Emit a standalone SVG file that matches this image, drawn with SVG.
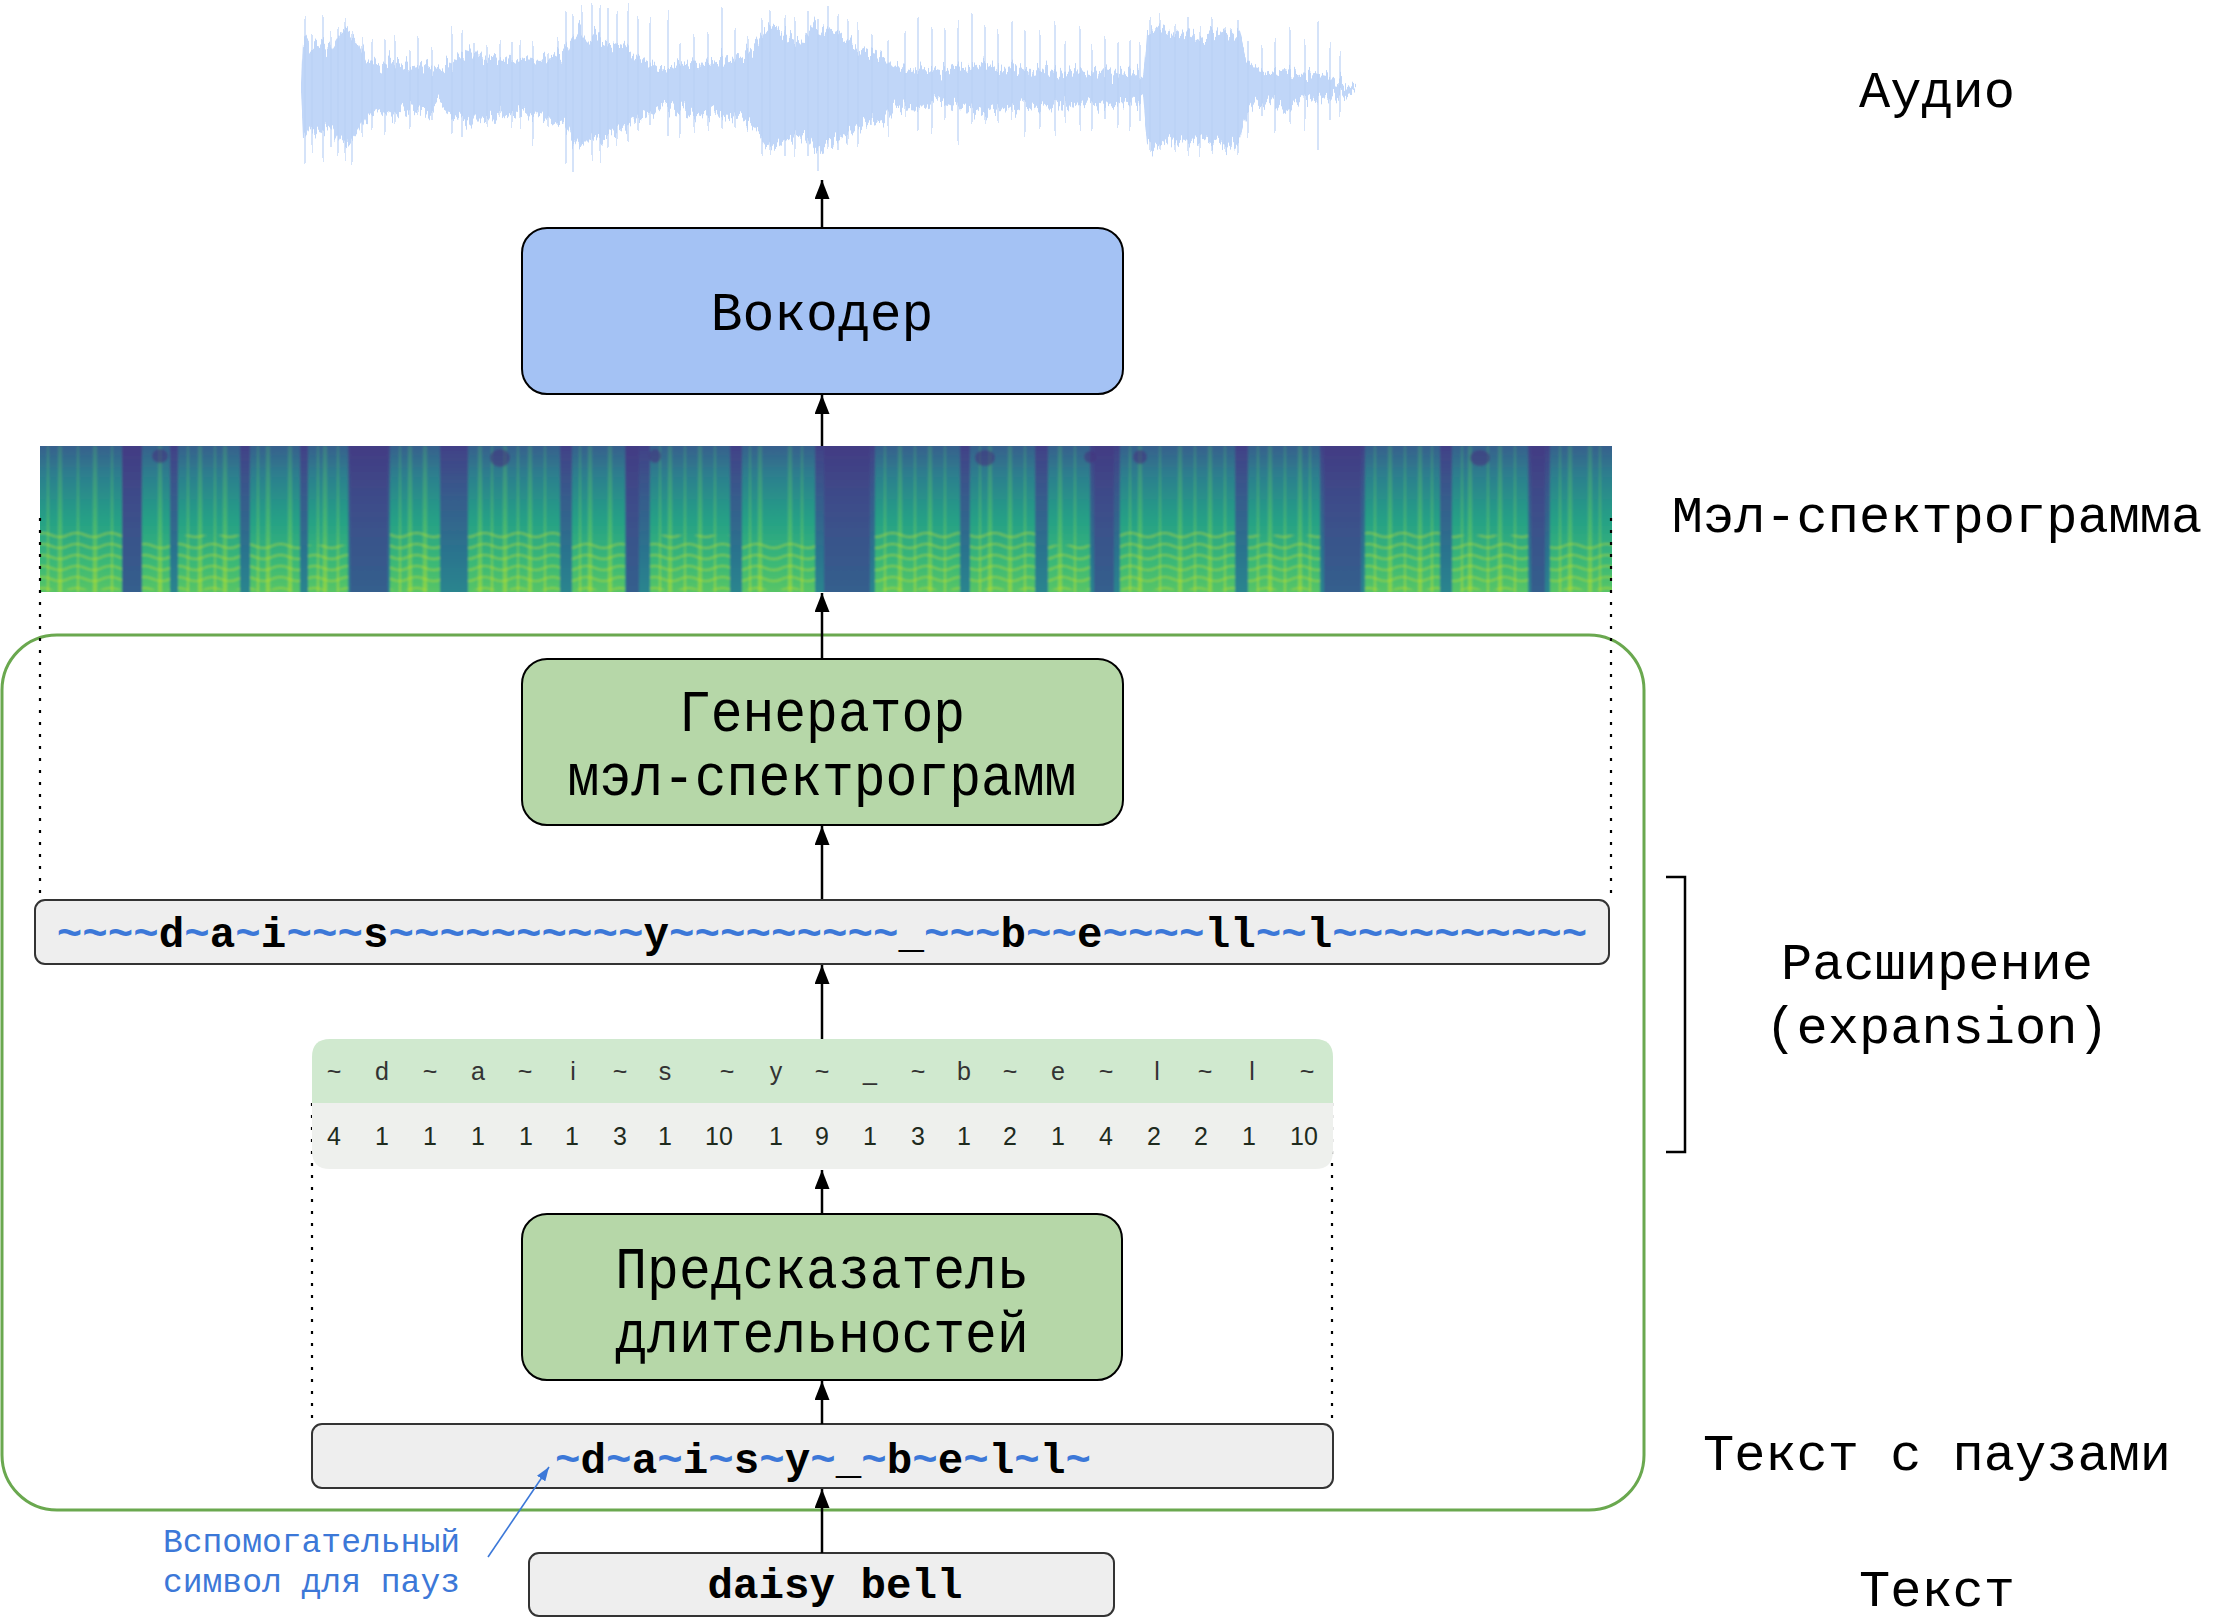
<svg xmlns="http://www.w3.org/2000/svg" width="2219" height="1620" viewBox="0 0 2219 1620">
<style>
.lbl{font-family:"Liberation Mono","DejaVu Sans Mono",monospace;font-size:52px;fill:#000;text-anchor:middle}
.btx{font-family:"Liberation Mono","DejaVu Sans Mono",monospace;font-size:53px;fill:#000;text-anchor:middle}
.box{stroke:#000;stroke-width:2}
.bar{fill:#eeeeee;stroke:#333;stroke-width:2}
.code{font-family:"Liberation Mono","DejaVu Sans Mono",monospace;font-size:42.5px;font-weight:bold;fill:#000;text-anchor:middle}
.t{fill:#3c78d8}
.tbl{font-family:"Liberation Sans",Arial,sans-serif;font-size:25px;text-anchor:middle;fill:#333}
.num{fill:#1e2b1e}
.ann{font-family:"Liberation Mono","DejaVu Sans Mono",monospace;font-size:33px;fill:#3c78d8;text-anchor:end}
.conn line{stroke:#000;stroke-width:2.5;marker-end:url(#ah)}
.dot{stroke:#000;stroke-width:2.2;stroke-dasharray:3 9;fill:none}
.v{fill:url(#gv)}
.h{fill:url(#harm);opacity:.45}
.d{fill:url(#gd)}
</style>
<defs>
<marker id="ah" markerUnits="userSpaceOnUse" markerWidth="20" markerHeight="16" refX="19" refY="7.5" orient="auto"><path d="M0,0 L19,7.5 L0,15 z" fill="#000"/></marker>
<marker id="ahb" markerUnits="userSpaceOnUse" markerWidth="14" markerHeight="10" refX="14" refY="5" orient="auto"><path d="M0,0 L14,5 L0,10 z" fill="#3c78d8"/></marker>
<linearGradient id="gm" gradientUnits="userSpaceOnUse" x1="0" y1="446" x2="0" y2="592"><stop offset="0" stop-color="#424187"/><stop offset=".3" stop-color="#38598c"/><stop offset=".7" stop-color="#2c728e"/><stop offset="1" stop-color="#2a858e"/></linearGradient>
<linearGradient id="gv" gradientUnits="userSpaceOnUse" x1="0" y1="446" x2="0" y2="592"><stop offset="0" stop-color="#37608d"/><stop offset=".2" stop-color="#2d7f8e"/><stop offset=".5" stop-color="#25a086"/><stop offset=".8" stop-color="#3bb877"/><stop offset="1" stop-color="#58c566"/></linearGradient>
<linearGradient id="gd" gradientUnits="userSpaceOnUse" x1="0" y1="446" x2="0" y2="592"><stop offset="0" stop-color="#433c84"/><stop offset=".4" stop-color="#3d4d8a"/><stop offset="1" stop-color="#345f8d"/></linearGradient>
<linearGradient id="gs" gradientUnits="userSpaceOnUse" x1="0" y1="446" x2="0" y2="592"><stop offset="0" stop-color="#4ac16d" stop-opacity=".25"/><stop offset=".6" stop-color="#6ece58" stop-opacity=".5"/><stop offset="1" stop-color="#a2da37" stop-opacity=".7"/></linearGradient>
<pattern id="harm" width="34" height="11" patternUnits="userSpaceOnUse" x="0" y="540"><path d="M0,6 Q8.5,2 17,6 T34,6" fill="none" stroke="#c2df23" stroke-width="2.2"/></pattern>
<clipPath id="specclip"><rect x="40" y="446" width="1572" height="146"/></clipPath>
<filter id="soft" x="-2%" y="-10%" width="104%" height="120%"><feGaussianBlur stdDeviation="1.3"/></filter>
<filter id="rough" x="-5%" y="-40%" width="110%" height="180%">
<feTurbulence type="fractalNoise" baseFrequency="0.35 0.015" numOctaves="2" seed="7" result="n"/>
<feColorMatrix in="n" type="matrix" values="0 0 0 0 0.5  0 1 0 0 0  0 0 0 0 0  0 0 0 0 1" result="m"/>
<feDisplacementMap in="SourceGraphic" in2="m" scale="34" xChannelSelector="R" yChannelSelector="G"/>
</filter>
</defs>
<rect width="2219" height="1620" fill="#fff"/>

<g id="audio-wave" filter="url(#rough)">
<polygon fill="#c0d6f8" points="301,83 303,38 310,48 318,43 330,50 340,33 350,36 358,43 366,58 380,66 395,60 410,68 425,64 440,70 446,66 458,58 470,50 480,60 495,56 510,62 525,58 540,60 555,56 565,52 571,40 580,28 590,38 600,36 612,43 625,48 640,58 655,66 661,70 675,66 690,62 705,64 720,60 740,58 755,48 765,33 775,28 790,38 805,40 815,26 825,30 840,38 855,46 870,53 885,58 893,66 910,70 925,68 940,72 955,66 970,68 985,63 1000,70 1015,66 1030,72 1045,68 1060,74 1075,70 1090,73 1105,70 1120,74 1135,72 1143,78 1147,33 1155,28 1170,36 1185,33 1200,38 1215,34 1230,30 1240,38 1246,58 1255,68 1270,73 1285,70 1300,76 1315,74 1330,78 1345,82 1356,86 1356,90 1345,94 1330,98 1315,102 1300,100 1285,106 1270,103 1255,108 1246,118 1240,138 1230,146 1215,142 1200,138 1185,143 1170,140 1155,148 1147,143 1143,98 1135,104 1120,102 1105,106 1090,103 1075,106 1060,102 1045,108 1030,104 1015,110 1000,106 985,113 970,108 955,110 940,104 925,108 910,106 893,110 885,118 870,123 855,130 840,138 825,146 815,150 805,136 790,138 775,148 765,143 755,128 740,118 720,116 705,112 690,114 675,110 661,106 655,110 640,118 625,128 612,133 600,140 590,138 580,148 571,136 565,124 555,120 540,116 525,118 510,114 495,120 480,116 470,126 458,118 446,110 440,106 425,112 410,108 395,116 380,110 366,118 358,133 350,140 340,143 330,126 318,133 310,128 303,138 301,93"/>
<path fill="none" stroke="#b9d1f6" stroke-width="1.2" d="M305,18V160M312,26V146M323,20V158M331,33V150M338,26V158M345,25V153M352,30V160M362,42V136M372,40V128M385,36V132M395,30V126M410,48V130M418,33V116M432,50V118M452,30V133M462,36V136M474,38V120M487,43V128M500,40V124M512,44V130M520,36V124M533,48V136M548,50V128M558,46V123M566,12V158M573,18V166M582,10V143M592,6V163M600,8V158M608,6V150M617,12V146M628,6V140M638,18V133M650,16V126M668,10V136M680,43V138M694,36V128M708,40V126M722,10V128M735,33V130M748,38V124M762,18V150M770,16V153M785,23V158M795,13V160M808,10V158M818,13V170M828,6V153M838,16V148M848,18V140M858,23V146M872,40V128M888,36V133M905,28V116M918,23V128M932,26V133M945,30V122M958,20V140M972,23V126M985,28V122M998,36V128M1012,23V118M1025,30V133M1040,36V128M1055,26V130M1065,38V123M1080,33V126M1092,46V133M1105,40V118M1118,42V128M1130,38V126M1140,43V118M1150,20V153M1160,18V150M1175,23V148M1188,24V153M1200,26V151M1212,22V146M1225,28V150M1238,26V148M1248,38V133M1262,48V120M1275,44V126M1290,30V118M1305,40V123M1318,16V153M1330,48V118M1340,53V113"/>
</g>

<g id="mel-spectrogram" clip-path="url(#specclip)">
<g filter="url(#soft)">
<rect x="30" y="440" width="1592" height="160" fill="url(#gm)"/>
<rect class="v" x="30" y="440" width="92" height="160"/>
<rect class="v" x="142" y="440" width="28" height="160"/>
<rect class="v" x="178" y="440" width="62" height="160"/>
<rect class="v" x="250" y="440" width="50" height="160"/>
<rect class="v" x="308" y="440" width="40" height="160"/>
<rect class="v" x="390" y="440" width="50" height="160"/>
<rect class="v" x="468" y="440" width="92" height="160"/>
<rect class="v" x="572" y="440" width="53" height="160"/>
<rect class="v" x="650" y="440" width="80" height="160"/>
<rect class="v" x="742" y="440" width="73" height="160"/>
<rect class="v" x="875" y="440" width="85" height="160"/>
<rect class="v" x="970" y="440" width="65" height="160"/>
<rect class="v" x="1048" y="440" width="42" height="160"/>
<rect class="v" x="1120" y="440" width="115" height="160"/>
<rect class="v" x="1248" y="440" width="72" height="160"/>
<rect class="v" x="1365" y="440" width="75" height="160"/>
<rect class="v" x="1452" y="440" width="76" height="160"/>
<rect class="v" x="1550" y="440" width="70" height="160"/>
<path fill="none" stroke="url(#gs)" d="M60,446V592M95,446V592M160,446V592M200,446V592M225,446V592M268,446V592M290,446V592M325,446V592M410,446V592M425,446V592M480,446V592M505,446V592M530,446V592M590,446V592M610,446V592M670,446V592M700,446V592M760,446V592M790,446V592M900,446V592M930,446V592M990,446V592M1010,446V592M1060,446V592M1140,446V592M1180,446V592M1210,446V592M1270,446V592M1300,446V592M1390,446V592M1420,446V592M1470,446V592M1500,446V592M1570,446V592M1590,446V592" stroke-width="4"/>
<path fill="none" stroke="url(#gs)" stroke-width="2" d="M48,446V592M78,446V592M112,446V592M188,446V592M215,446V592M258,446V592M318,446V592M338,446V592M400,446V592M492,446V592M518,446V592M545,446V592M580,446V592M660,446V592M685,446V592M715,446V592M750,446V592M802,446V592M885,446V592M915,446V592M945,446V592M980,446V592M1025,446V592M1075,446V592M1130,446V592M1160,446V592M1195,446V592M1225,446V592M1258,446V592M1285,446V592M1310,446V592M1375,446V592M1405,446V592M1432,446V592M1462,446V592M1488,446V592M1515,446V592M1560,446V592M1600,446V592"/>
<rect class="h" x="30" y="528" width="92" height="62"/>
<rect class="h" x="142" y="540" width="28" height="50"/>
<rect class="h" x="178" y="535" width="62" height="55"/>
<rect class="h" x="250" y="540" width="50" height="50"/>
<rect class="h" x="308" y="545" width="40" height="45"/>
<rect class="h" x="390" y="528" width="50" height="62"/>
<rect class="h" x="468" y="530" width="92" height="60"/>
<rect class="h" x="572" y="540" width="53" height="50"/>
<rect class="h" x="650" y="535" width="80" height="55"/>
<rect class="h" x="742" y="540" width="73" height="50"/>
<rect class="h" x="875" y="528" width="85" height="62"/>
<rect class="h" x="970" y="532" width="65" height="58"/>
<rect class="h" x="1048" y="545" width="42" height="45"/>
<rect class="h" x="1120" y="530" width="115" height="60"/>
<rect class="h" x="1248" y="535" width="72" height="55"/>
<rect class="h" x="1365" y="528" width="75" height="62"/>
<rect class="h" x="1452" y="535" width="76" height="55"/>
<rect class="h" x="1550" y="540" width="70" height="50"/>
<rect class="d" x="122" y="440" width="20" height="160"/>
<rect class="d" x="350" y="440" width="38" height="160"/>
<rect class="d" x="626" y="440" width="13" height="160"/>
<rect class="d" x="824" y="440" width="46" height="160"/>
<rect class="d" x="1094" y="440" width="20" height="160"/>
<rect class="d" x="1324" y="440" width="37" height="160"/>
<rect class="d" x="1531" y="440" width="14" height="160"/>
<g fill="#46317e" opacity=".55">
<ellipse cx="160" cy="456" rx="8" ry="7"/><ellipse cx="500" cy="458" rx="10" ry="9"/><ellipse cx="655" cy="456" rx="6" ry="7"/><ellipse cx="985" cy="458" rx="10" ry="8"/><ellipse cx="1090" cy="457" rx="6" ry="6"/><ellipse cx="1140" cy="457" rx="7" ry="7"/><ellipse cx="1480" cy="458" rx="10" ry="8"/>
</g>
</g>
</g>

<g id="pipeline-frame">
<rect x="2" y="635" width="1642" height="875" rx="55" fill="none" stroke="#6aa84f" stroke-width="3"/>
</g>

<g id="guides">
<path class="dot" d="M40,518V900M1611,518V900M312,1103V1424M1332,1103V1424"/>
</g>

<g id="vocoder">
<rect class="box" x="522" y="228" width="601" height="166" rx="25" fill="#a4c2f4"/>
<text class="btx" x="822" y="330">Вокодер</text>
</g>

<g id="mel-generator">
<rect class="box" x="522" y="659" width="601" height="166" rx="25" fill="#b6d7a8"/>
<text class="btx" transform="translate(822,731) scale(1,1.1)">Генератор</text>
<text class="btx" transform="translate(822,795) scale(1,1.1)">мэл-спектрограмм</text>
</g>

<g id="expanded-text">
<rect class="bar" x="35" y="900" width="1574" height="64" rx="10"/>
<text class="code" x="822" y="947"><tspan class="t">~~~~</tspan>d<tspan class="t">~</tspan>a<tspan class="t">~</tspan>i<tspan class="t">~~~</tspan>s<tspan class="t">~~~~~~~~~~</tspan>y<tspan class="t">~~~~~~~~~</tspan>_<tspan class="t">~~~</tspan>b<tspan class="t">~~</tspan>e<tspan class="t">~~~~</tspan>ll<tspan class="t">~~</tspan>l<tspan class="t">~~~~~~~~~~</tspan></text>
</g>

<g id="durations-table">
<path d="M312,1103V1057Q312,1039 330,1039H1315Q1333,1039 1333,1057V1103Z" fill="#d0e9cf"/>
<path d="M312,1103V1151Q312,1169 330,1169H1315Q1333,1169 1333,1151V1103Z" fill="#eef0ed"/>
<g class="tbl">
<text x="334" y="1080">~</text><text x="382" y="1080">d</text><text x="430" y="1080">~</text><text x="478" y="1080">a</text><text x="525" y="1080">~</text><text x="573" y="1080">i</text><text x="620" y="1080">~</text><text x="665" y="1080">s</text><text x="727" y="1080">~</text><text x="776" y="1080">y</text><text x="822" y="1080">~</text><text x="870" y="1080">_</text><text x="918" y="1080">~</text><text x="964" y="1080">b</text><text x="1010" y="1080">~</text><text x="1058" y="1080">e</text><text x="1106" y="1080">~</text><text x="1157" y="1080">l</text><text x="1205" y="1080">~</text><text x="1252" y="1080">l</text><text x="1307" y="1080">~</text>
</g>
<g class="tbl num">
<text x="334" y="1145">4</text><text x="382" y="1145">1</text><text x="430" y="1145">1</text><text x="478" y="1145">1</text><text x="526" y="1145">1</text><text x="572" y="1145">1</text><text x="620" y="1145">3</text><text x="665" y="1145">1</text><text x="719" y="1145">10</text><text x="776" y="1145">1</text><text x="822" y="1145">9</text><text x="870" y="1145">1</text><text x="918" y="1145">3</text><text x="964" y="1145">1</text><text x="1010" y="1145">2</text><text x="1058" y="1145">1</text><text x="1106" y="1145">4</text><text x="1154" y="1145">2</text><text x="1201" y="1145">2</text><text x="1249" y="1145">1</text><text x="1304" y="1145">10</text>
</g>
</g>

<g id="duration-predictor">
<rect class="box" x="522" y="1214" width="600" height="166" rx="25" fill="#b6d7a8"/>
<text class="btx" transform="translate(822,1288) scale(1,1.1)">Предсказатель</text>
<text class="btx" transform="translate(822,1352) scale(1,1.1)">длительностей</text>
</g>

<g id="text-with-pauses">
<rect class="bar" x="312" y="1424" width="1021" height="64" rx="10"/>
<text class="code" x="823" y="1473"><tspan class="t">~</tspan>d<tspan class="t">~</tspan>a<tspan class="t">~</tspan>i<tspan class="t">~</tspan>s<tspan class="t">~</tspan>y<tspan class="t">~</tspan>_<tspan class="t">~</tspan>b<tspan class="t">~</tspan>e<tspan class="t">~</tspan>l<tspan class="t">~</tspan>l<tspan class="t">~</tspan></text>
</g>

<g id="input-text">
<rect class="bar" x="529" y="1553" width="585" height="63" rx="10"/>
<text class="code" x="835" y="1598">daisy bell</text>
</g>

<g id="pause-annotation">
<text class="ann" x="460" y="1552">Вспомогательный</text>
<text class="ann" x="460" y="1592">символ для пауз</text>
</g>

<g id="labels">
<text class="lbl" x="1937" y="107">Аудио</text>
<text class="lbl" x="1937" y="532">Мэл-спектрограмма</text>
<text class="lbl" x="1937" y="979">Расширение</text>
<text class="lbl" x="1937" y="1043">(expansion)</text>
<text class="lbl" x="1937" y="1470">Текст с паузами</text>
<text class="lbl" x="1937" y="1606">Текст</text>
<path d="M1666,877H1685V1152H1666" fill="none" stroke="#000" stroke-width="2.5"/>
</g>

<g id="connectors" class="conn">
<line x1="822" y1="1553" x2="822" y2="1489"/>
<line x1="822" y1="1424" x2="822" y2="1381"/>
<line x1="822" y1="1214" x2="822" y2="1170"/>
<line x1="822" y1="1039" x2="822" y2="965"/>
<line x1="822" y1="899" x2="822" y2="826"/>
<line x1="822" y1="659" x2="822" y2="593"/>
<line x1="822" y1="446" x2="822" y2="395"/>
<line x1="822" y1="228" x2="822" y2="180"/>
<line x1="488" y1="1557" x2="549" y2="1467" style="stroke:#3c78d8;stroke-width:1.6;marker-end:url(#ahb)"/>
</g>
</svg>
